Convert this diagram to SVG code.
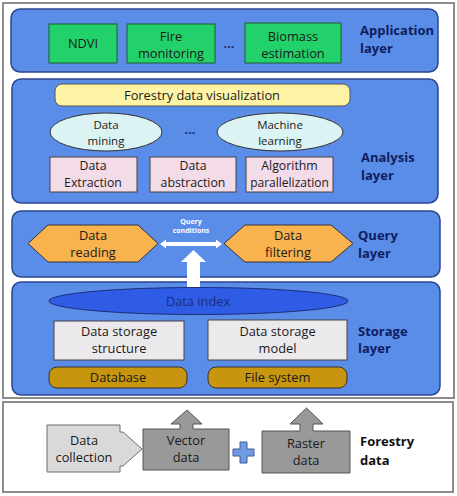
<svg xmlns="http://www.w3.org/2000/svg" width="457" height="496" viewBox="0 0 457 496">
<style>
text{font-family:"Open Sans","Noto Sans","Liberation Sans",sans-serif;font-size:12.8px;fill:#1a1a1a;text-anchor:middle}
.lbl{font-weight:bold;font-size:13px;fill:#0f1d5e;text-anchor:start}
.flbl{font-weight:bold;font-size:13px;fill:#111;text-anchor:start}
.sm{font-size:11.5px}
.pt{font-size:12.3px}
.frame{fill:#fff;stroke:#8c8c8c;stroke-width:2}
.layer{fill:#5a8de8;stroke:#2a4690;stroke-width:1.5}
.green{fill:#23d16b;stroke:#1f5a33;stroke-width:1}
.yel{fill:#fff3a6;stroke:#555;stroke-width:1}
.ell{fill:#dcf3f3;stroke:#333;stroke-width:1}
.pink{fill:#f3dbe8;stroke:#444;stroke-width:1}
.hex{fill:#f8b24e;stroke:#333;stroke-width:1}
.grey{fill:#ece9ec;stroke:#444;stroke-width:1}
.gold{fill:#c8950e;stroke:#333;stroke-width:1}
.lg{fill:#d9d9d9;stroke:#6e6e6e;stroke-width:1}
.dg{fill:#999;stroke:#555;stroke-width:1}
.wh{fill:#fff}
</style>
<rect class="frame" x="3" y="3" width="451" height="395"/>
<rect class="frame" x="3" y="402" width="450" height="90"/>

<g id="application-layer">
<rect class="layer" x="11" y="9" width="427" height="63" rx="9"/>
<text class="lbl" x="360" y="35">Application</text>
<text class="lbl" x="360" y="53">layer</text>
</g>
<g id="ndvi"><rect class="green" x="49" y="24" width="68" height="39"/><text x="83" y="48">NDVI</text></g>
<g id="fire"><rect class="green" x="127" y="24" width="88" height="39"/><text x="171" y="41">Fire</text><text x="171" y="58">monitoring</text></g>
<text x="229" y="48" style="font-weight:bold;fill:#1f2f70">...</text>
<g id="biomass"><rect class="green" x="245" y="23" width="96" height="40"/><text x="293" y="41">Biomass</text><text x="293" y="58">estimation</text></g>

<g id="analysis-layer">
<rect class="layer" x="12" y="79" width="426" height="124" rx="9"/>
<text class="lbl" x="361" y="162">Analysis</text>
<text class="lbl" x="361" y="180">layer</text>
</g>
<g id="visualization"><rect class="yel" x="55" y="84" width="295" height="22" rx="7"/><text x="202" y="99.5">Forestry data visualization</text></g>
<g id="mining"><ellipse class="ell" cx="106" cy="132" rx="56" ry="19"/><text class="sm" x="106" y="129">Data</text><text class="sm" x="106" y="145">mining</text></g>
<text x="190" y="134" style="font-weight:bold;fill:#1f2f70">...</text>
<g id="ml"><ellipse class="ell" cx="280" cy="132" rx="63" ry="19"/><text class="sm" x="280" y="129">Machine</text><text class="sm" x="280" y="145">learning</text></g>
<g id="extraction"><rect class="pink" x="50" y="157" width="87" height="35"/><text class="pt" x="93" y="170">Data</text><text class="pt" x="93" y="187">Extraction</text></g>
<g id="abstraction"><rect class="pink" x="150" y="157" width="86" height="35"/><text class="pt" x="193" y="170">Data</text><text class="pt" x="193" y="187">abstraction</text></g>
<g id="parallel"><rect class="pink" x="246" y="157" width="87" height="35"/><text class="pt" x="289.5" y="170">Algorithm</text><text x="289.5" y="187" style="font-size:12px">parallelization</text></g>

<g id="query-layer">
<rect class="layer" x="12" y="211" width="428" height="66" rx="9"/>
<text class="lbl" x="358" y="240">Query</text>
<text class="lbl" x="358" y="258">layer</text>
</g>
<g id="reading"><polygon class="hex" points="28,243.5 48,225 138,225 158,243.5 138,262 48,262"/><text x="93" y="240">Data</text><text x="93" y="257">reading</text></g>
<g id="filtering"><polygon class="hex" points="224,243.5 245,225 331,225 353,243.5 331,262 245,262"/><text x="288" y="240">Data</text><text x="288" y="257">filtering</text></g>

<g id="storage-layer">
<rect class="layer" x="12" y="282" width="428" height="113" rx="9"/>
<text class="lbl" x="358" y="336">Storage</text>
<text class="lbl" x="358" y="353">layer</text>
</g>
<g id="index"><ellipse cx="198.5" cy="301" rx="149.5" ry="13.5" fill="#2e5ce5" stroke="#1d2f7a" stroke-width="1"/><text x="198" y="305.5" style="fill:#1c2d7a">Data index</text></g>
<g id="structure"><rect class="grey" x="54" y="321" width="130" height="39"/><text x="119" y="336">Data storage</text><text x="119" y="353">structure</text></g>
<g id="model"><rect class="grey" x="208" y="320" width="139" height="40"/><text x="277.5" y="336">Data storage</text><text x="277.5" y="353">model</text></g>
<g id="database"><rect class="gold" x="49" y="367" width="138" height="21" rx="8"/><text x="118" y="382">Database</text></g>
<g id="filesystem"><rect class="gold" x="208" y="367" width="139" height="21" rx="8"/><text x="277.5" y="382">File system</text></g>

<g id="connectors">
<polygon class="wh" points="160,244 166,239.5 166,242 216,242 216,239.5 222,244 216,248.5 216,246 166,246 166,248.5"/>
<text x="191" y="224" style="font-size:7px;font-weight:bold;fill:#fff">Query</text>
<text x="191" y="233" style="font-size:7px;font-weight:bold;fill:#fff">conditions</text>
<polygon class="wh" points="193.5,250 206,262 200,262 200,287 187,287 187,262 181,262"/>
</g>

<text class="flbl" x="360" y="446">Forestry</text>
<text class="flbl" x="360" y="465">data</text>
<g id="collection"><path class="lg" d="M47,425 H120 V432 H123 L142,449 L123,466 H120 V472 H47 Z"/><text x="84" y="445">Data</text><text x="84" y="462">collection</text></g>
<g id="vector"><path class="dg" d="M143,429 H180 V424 H171 L187,410 L202,424 H193 V429 H229 V470 H143 Z"/><text x="186" y="445">Vector</text><text x="186" y="462">data</text></g>
<path d="M240,442 H247 V449 H254 V456 H247 V463 H240 V456 H233 V449 H240 Z" fill="#6f9be0" stroke="#3d5f9c" stroke-width="1"/>
<g id="raster"><path class="dg" d="M262,431 H300 V424 H290 L306.5,408 L323,424 H313 V431 H350 V473 H262 Z"/><text x="306" y="448">Raster</text><text x="306" y="465">data</text></g>
</svg>
